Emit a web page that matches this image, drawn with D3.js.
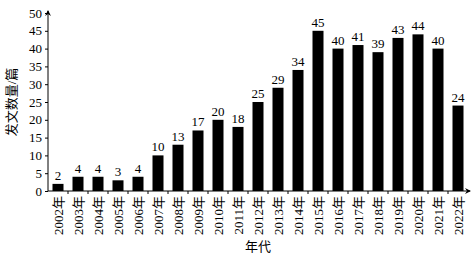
<!DOCTYPE html>
<html>
<head>
<meta charset="utf-8">
<script src="https://cdn.jsdelivr.net/npm/d3@7"></script>
<style>
  body { margin: 0; background: #fff; }
  text { font-family: "Liberation Serif", "Noto Sans CJK SC", serif; fill: #000; }
</style>
</head>
<body>
<svg id="chart"></svg>
<script>
var years = ["2002年", "2003年", "2004年", "2005年", "2006年", "2007年", "2008年",
  "2009年", "2010年", "2011年", "2012年", "2013年", "2014年", "2015年", "2016年",
  "2017年", "2018年", "2019年", "2020年", "2021年", "2022年"];
var counts = [2, 4, 4, 3, 4, 10, 13, 17, 20, 18, 25, 29, 34, 45, 40, 41, 39, 43, 44, 40, 24];
var yTicks = [0, 5, 10, 15, 20, 25, 30, 35, 40, 45, 50];

var width = 472, height = 255;
var padL = 48, padR = 468, padT = 13, padB = 191;

var svg = d3.select("#chart").attr("width", width).attr("height", height);

var x = d3.scaleBand().domain(years).range([padL, padR]).paddingInner(0.45).paddingOuter(0.225);
var y = d3.scaleLinear().domain([0, 50]).range([padB, padT]);

// bars
svg.selectAll(".bar")
  .data(years)
  .enter()
  .append("rect")
  .attr("class", "bar")
  .attr("x", function (d) { return x(d); })
  .attr("y", function (d, i) { return y(counts[i]); })
  .attr("width", x.bandwidth())
  .attr("height", function (d, i) { return padB - y(counts[i]); })
  .attr("fill", "#000");

// value labels
svg.selectAll(".val")
  .data(years)
  .enter()
  .append("text")
  .attr("class", "val")
  .attr("x", function (d) { return x(d) + x.bandwidth() / 2; })
  .attr("y", function (d, i) { return y(counts[i]) - 4; })
  .attr("text-anchor", "middle")
  .style("font-size", "13px")
  .text(function (d, i) { return counts[i]; });

// y axis
var yaxis = d3.axisLeft(y).tickValues(yTicks).tickSize(3).tickPadding(3);
var gy = svg.append("g").attr("transform", "translate(" + padL + ",0)").call(yaxis);
gy.select(".domain").remove();
gy.selectAll("text").style("font-size", "13px").style("font-family", "Liberation Serif, serif");
svg.append("line")
  .attr("x1", padL).attr("x2", padL)
  .attr("y1", padB).attr("y2", padT - 2)
  .attr("stroke", "#000");
svg.append("path")
  .attr("d", "M" + (padL - 3) + "," + (padT + 3) + "L" + padL + "," + (padT - 3) + "L" + (padL + 3) + "," + (padT + 3) + "L" + padL + "," + (padT + 1) + "Z")
  .attr("fill", "#000");

// x axis
var step = x.step();
var bounds = years.map(function (d) { return x(d) - x.paddingInner() * step / 2; });
svg.append("line")
  .attr("x1", padL).attr("x2", padR + 2)
  .attr("y1", padB).attr("y2", padB)
  .attr("stroke", "#000");
svg.append("path")
  .attr("d", "M" + (padR - 3) + "," + (padB - 3) + "L" + (padR + 3) + "," + padB + "L" + (padR - 3) + "," + (padB + 3) + "L" + (padR - 1) + "," + padB + "Z")
  .attr("fill", "#000");
svg.selectAll(".xtick")
  .data(bounds.slice(1))
  .enter()
  .append("line")
  .attr("x1", function (d) { return d; })
  .attr("x2", function (d) { return d; })
  .attr("y1", padB).attr("y2", padB + 3)
  .attr("stroke", "#000");

svg.selectAll(".xlab")
  .data(years)
  .enter()
  .append("text")
  .attr("class", "xlab")
  .attr("transform", function (d) {
    return "translate(" + (x(d) + x.bandwidth() / 2 + 4.5) + "," + (padB + 5) + ")rotate(-90)";
  })
  .attr("text-anchor", "end")
  .style("font-size", "13px")
  .text(function (d) { return d; });

// axis titles
svg.append("text")
  .attr("x", (padL + padR) / 2)
  .attr("y", 251)
  .attr("text-anchor", "middle")
  .style("font-size", "13px")
  .text("年代");

svg.append("text")
  .attr("transform", "translate(" + 16 + "," + (padT + padB) / 2 + ")rotate(-90)")
  .attr("text-anchor", "middle")
  .style("font-size", "13px")
  .text("发文数量/篇");
</script>
</body>
</html>
